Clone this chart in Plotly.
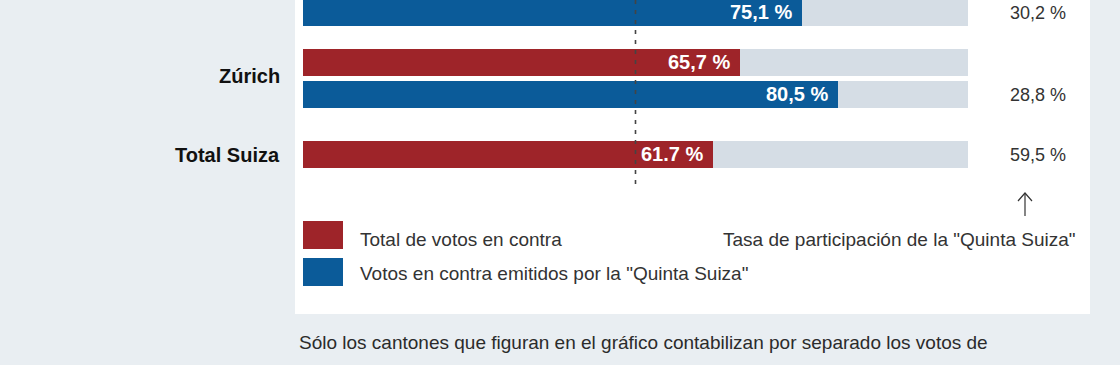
import plotly.graph_objects as go

# ---- data ----
cantons = ["Valais", "Zúrich", "Total Suiza"]
votos_total = [None, 65.7, 61.7]          # Total de votos en contra (Valais bar lies outside the crop)
votos_quinta = [75.1, 80.5, None]         # Votos en contra de la "Quinta Suiza"
labels_total = ["", "65,7 %", "61.7 %"]
labels_quinta = ["75,1 %", "80,5 %", ""]
participacion = ["30,2 %", "28,8 %", "59,5 %"]
referencia = 50

# ---- layout helpers (pixel geometry of the 1120x365 canvas) ----
W, H = 1120, 365
X0PX, PXU = 303, 6.65            # x pixel of 0 %, pixels per 1 %
def xd(px):
    return (px - X0PX) / PXU

BAR_H = 27
PAIR_STEP = 32
GROUP_PITCH = 82
TOTAL_EXTRA = 10
FIRST_TOP = -33

RED = "#9e2429"
BLUE = "#0b5b99"
TRACK = "#d5dde5"
BG = "#e9eef2"
DARK = "#2b2b2b"
GREY_TXT = "#333333"
FONT = "Liberation Sans, Arial, sans-serif"

red_y, blue_y, grp_c, last_y = [], [], [], []
for i, c in enumerate(cantons):
    top = FIRST_TOP + i * GROUP_PITCH + (TOTAL_EXTRA if i == len(cantons) - 1 else 0)
    ry = top + BAR_H / 2
    red_y.append(ry)
    if votos_quinta[i] is not None:
        by = ry + PAIR_STEP
        blue_y.append(by)
        grp_c.append((ry + by) / 2 - 3)
        last_y.append(by)
    else:
        blue_y.append(None)
        grp_c.append(ry)
        last_y.append(ry)

fig = go.Figure()

# background tracks
track_y = red_y + [y for y in blue_y if y is not None]
fig.add_trace(go.Bar(
    x=[100] * len(track_y), y=track_y, orientation="h", width=BAR_H,
    marker=dict(color=TRACK, line=dict(width=0)), hoverinfo="skip", showlegend=False))

rt = [(v, y, l) for v, y, l in zip(votos_total, red_y, labels_total) if v is not None]
fig.add_trace(go.Bar(
    x=[b[0] for b in rt], y=[b[1] for b in rt], orientation="h", width=BAR_H,
    marker=dict(color=RED, line=dict(width=0)),
    name="Total de votos en contra", showlegend=False))

bq = [(v, y, l) for v, y, l in zip(votos_quinta, blue_y, labels_quinta) if v is not None]
fig.add_trace(go.Bar(
    x=[b[0] for b in bq], y=[b[1] for b in bq], orientation="h", width=BAR_H,
    marker=dict(color=BLUE, line=dict(width=0)),
    name='Votos en contra emitidos por la "Quinta Suiza"', showlegend=False))

shapes = []
# white panel
shapes.append(dict(type="rect", xref="x", yref="y", x0=xd(295), x1=xd(1090), y0=-60, y1=314,
                   fillcolor="white", line=dict(width=0), layer="below"))
# reference dashed line
shapes.append(dict(type="line", xref="x", yref="y", x0=referencia, x1=referencia, y0=-40, y1=188,
                   line=dict(color="#444", width=1.6, dash="4px,6px"), layer="above"))
# legend swatches
shapes.append(dict(type="rect", xref="x", yref="y", x0=xd(303), x1=xd(343), y0=221, y1=249,
                   fillcolor=RED, line=dict(width=0)))
shapes.append(dict(type="rect", xref="x", yref="y", x0=xd(303), x1=xd(343), y0=258, y1=286,
                   fillcolor=BLUE, line=dict(width=0)))
# arrow (thin shaft + open chevron head) pointing to the participation column
AX, AY_TOP, AY_BOT, HW, HH = 1025, 193, 216, 7, 8
shapes.append(dict(type="line", xref="x", yref="y", x0=xd(AX), x1=xd(AX), y0=AY_TOP, y1=AY_BOT,
                   line=dict(color=GREY_TXT, width=1.2)))
shapes.append(dict(type="path", xref="x", yref="y",
                   path=f"M {xd(AX - HW)},{AY_TOP + HH} L {xd(AX)},{AY_TOP} L {xd(AX + HW)},{AY_TOP + HH}",
                   line=dict(color=GREY_TXT, width=1.2)))

ann = []
# value labels inside bars
for v, y, l in rt + bq:
    ann.append(dict(x=v, y=y, text=l, xanchor="right", yanchor="middle", xshift=-8, yshift=1,
                    showarrow=False, font=dict(family=FONT, size=20, color="white", weight="bold")))
for c, gy in zip(cantons, grp_c):
    ann.append(dict(x=xd(282), y=gy, text=c, xanchor="right", yanchor="middle", showarrow=False,
                    font=dict(family=FONT, size=20, color="#111", weight="bold")))
for p, ly in zip(participacion, last_y):
    ann.append(dict(x=xd(1068), y=ly, text=p, xanchor="right", yanchor="middle", showarrow=False,
                    font=dict(family=FONT, size=18, color=GREY_TXT)))
ann.append(dict(x=xd(1078), y=239, text='Tasa de participación de la "Quinta Suiza"',
                xanchor="right", yanchor="middle", showarrow=False,
                font=dict(family=FONT, size=19, color=GREY_TXT)))
ann.append(dict(x=xd(358), y=239, text="Total de votos en contra", xanchor="left", yanchor="middle",
                showarrow=False, font=dict(family=FONT, size=19, color=GREY_TXT)))
ann.append(dict(x=xd(358), y=273, text='Votos en contra emitidos por la "Quinta Suiza"',
                xanchor="left", yanchor="middle", showarrow=False,
                font=dict(family=FONT, size=19, color=GREY_TXT)))
ann.append(dict(x=xd(297), y=342, text="Sólo los cantones que figuran en el gráfico contabilizan por separado los votos de",
                xanchor="left", yanchor="middle", showarrow=False,
                font=dict(family=FONT, size=19, color=DARK)))

fig.update_layout(
    width=W, height=H, margin=dict(l=0, r=0, t=0, b=0),
    paper_bgcolor=BG, plot_bgcolor="rgba(0,0,0,0)",
    barmode="overlay", bargap=0,
    xaxis=dict(range=[xd(0), xd(W)], visible=False, fixedrange=True),
    yaxis=dict(range=[H, 0], visible=False, fixedrange=True),
    shapes=shapes, annotations=ann, showlegend=False,
)
fig.write_html("out.html", config={"displayModeBar": False},
               post_script="document.body.style.margin='0';")
